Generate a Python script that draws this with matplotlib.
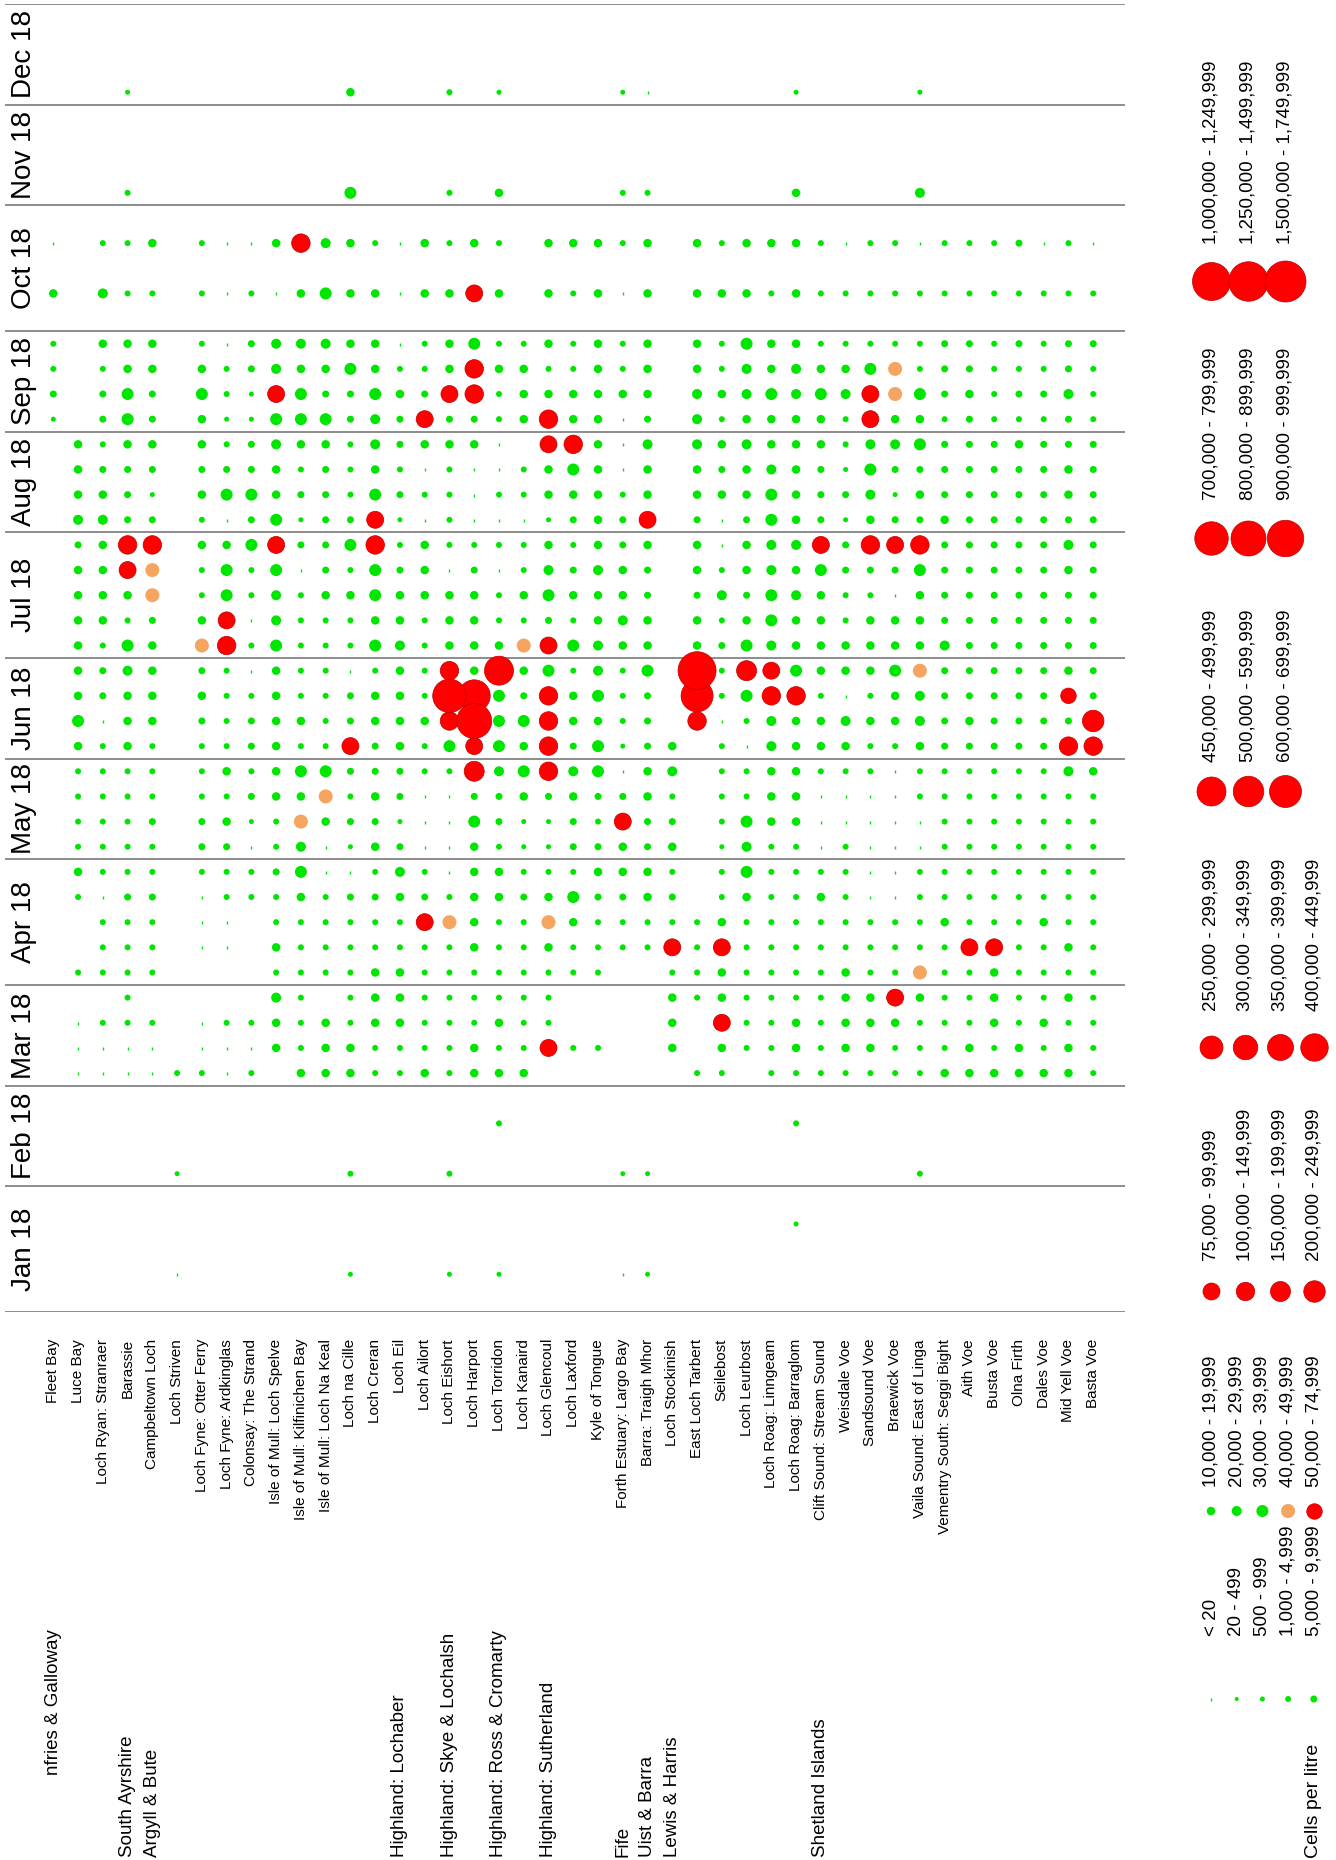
import numpy as np
import matplotlib
matplotlib.use('Agg')
import matplotlib.pyplot as plt

plt.rcParams['font.family'] = ['Liberation Sans', 'DejaVu Sans']

sites = ['Fleet Bay', 'Luce Bay', 'Loch Ryan: Stranraer', 'Barassie', 'Campbeltown Loch',
         'Loch Striven', 'Loch Fyne: Otter Ferry', 'Loch Fyne: Ardkinglas', 'Colonsay: The Strand',
         'Isle of Mull: Loch Spelve', 'Isle of Mull: Kilfinichen Bay', 'Isle of Mull: Loch Na Keal',
         'Loch na Cille', 'Loch Creran', 'Loch Eil', 'Loch Ailort', 'Loch Eishort', 'Loch Harport',
         'Loch Torridon', 'Loch Kanaird', 'Loch Glencoul', 'Loch Laxford', 'Kyle of Tongue',
         'Forth Estuary: Largo Bay', 'Barra: Traigh Mhor', 'Loch Stockinish', 'East Loch Tarbert',
         'Seilebost', 'Loch Leurbost', 'Loch Roag: Linngeam', 'Loch Roag: Barraglom',
         'Clift Sound: Stream Sound', 'Weisdale Voe', 'Sandsound Voe', 'Braewick Voe',
         'Vaila Sound: East of Linga', 'Vementry South: Seggi Bight', 'Aith Voe', 'Busta Voe',
         'Olna Firth', 'Dales Voe', 'Mid Yell Voe', 'Basta Voe']

regions = ['nfries & Galloway', 'South Ayrshire', 'Argyll & Bute', 'Highland: Lochaber',
           'Highland: Skye & Lochalsh', 'Highland: Ross & Cromarty', 'Highland: Sutherland',
           'Fife', 'Uist & Barra', 'Lewis & Harris', 'Shetland Islands']
region_site = [0, 3, 4, 14, 16, 18, 20, 23, 24, 25, 31]

months = ['Jan 18', 'Feb 18', 'Mar 18', 'Apr 18', 'May 18', 'Jun 18',
          'Jul 18', 'Aug 18', 'Sep 18', 'Oct 18', 'Nov 18', 'Dec 18']
weeks = [5, 4, 4, 5, 4, 4, 5, 4, 4, 5, 4, 4]

# cell count bins (legend order)
bins = ['< 20', '20 - 499', '500 - 999', '1,000 - 4,999', '5,000 - 9,999',
        '10,000 - 19,999', '20,000 - 29,999', '30,000 - 39,999', '40,000 - 49,999',
        '50,000 - 74,999', '75,000 - 99,999', '100,000 - 149,999', '150,000 - 199,999',
        '200,000 - 249,999', '250,000 - 299,999', '300,000 - 349,999', '350,000 - 399,999',
        '400,000 - 449,999', '450,000 - 499,999', '500,000 - 599,999', '600,000 - 699,999',
        '700,000 - 799,999', '800,000 - 899,999', '900,000 - 999,999',
        '1,000,000 - 1,249,999', '1,250,000 - 1,499,999', '1,500,000 - 1,749,999']
CODES = '0123456789ABCDEFGHIJKLMNOPQ'

# one string per weekly sample slot (first week first), one char per site, '.' = no sample
jan = ['.......... .......... .......... .......... ...',
       '.....0.... ..2...2.2. ...02..... .......... ...',
       '.......... .......... .......... .......... ...',
       '.......... .......... .......... 2......... ...',
       '.......... .......... .......... .......... ...']
feb = ['.....2.... ..3...3... ...22..... .....3.... ...',
       '.......... .......... .......... .......... ...',
       '.......... ........3. .......... 3......... ...',
       '.......... .......... .......... .......... ...']
mar = ['.00003303. 5553353555 ......33.3 3333335555 553',
       '.0000.0005 3553333533 A33..5.533 5355333535 353',
       '.0333.0335 3535533353 3....5.A33 5355533353 533',
       '...3.....6 3.35533333 3....53533 3355A53353 353']
apr = ['.3333....3 3335533333 333..33533 3353383353 333',
       '..333.00.5 3333333533 53333A3A33 3333333AA3 353',
       '..333.00.3 33333A8533 8533333533 3333335333 533',
       '.3044.0333 5344543554 574454.353 3530033333 333',
       '.5333.3334 7003630553 335553.373 3330033333 333']
may = ['.3333.4403 6025400532 244545.263 3030003333 333',
       '.3334.4523 8544200742 243A44.375 5000003333 333',
       '.3333.3345 5835400445 454453.335 5000033333 333',
       '.3333.3535 7744433C67 B67056.335 5333033333 365']
jun = ['.5353.3345 33A4537A75 B47245.306 5553354444 4BB',
       '.7055.4345 534555BM77 B5534.B036 5565564544 44D',
       '.5455.5335 334553LK74 B5734.K37B B303564444 494',
       '.5465.4305 330353B5I5 73637.O3CA 7555784444 454']
jul = ['.5375.8B37 3337635558 A7655.5476 5555556444 444',
       '.5534.5A06 3335535533 43565.5357 5535554444 444',
       '.5558.3736 3557555535 75554.4647 6533054444 444',
       '.55A8.3737 0437450403 64654.5356 5744474444 454',
       '.45BB.557A 447B353333 53545.5056 6A4BAB4444 464']
aug = ['.6644.3047 244A203000 2454A.4047 5425445444 444',
       '.5542.5775 4437433033 55535.5557 5446254444 454',
       '.5444.4445 3435303003 57505.5456 5427444444 454',
       '.5355.5346 553645550. AB506.6565 5536674445 444']
sep = ['2.474.5227 77464A4435 B5504.6355 553A553433 343',
       '4.474.732A 744754AB35 55555.6567 676A874534 463',
       '3.355.5346 5575335B55 33535.5365 6557834433 343',
       '3.555.3046 6655035733 53535.5375 5333334434 344']
oct_ = ['.......... .......... .......... .......... ...',
        '5.633.3030 5755055A5. 53505.5553 5333333333 333',
        '.......... .......... .......... .......... ...',
        '0.335.3005 B65305353. 55535.5355 5303303334 030',
        '.......... .......... .......... .......... ...']
nov = ['...3...... ..7...3.5. ...33..... 5....6.... ...',
       '.......... .......... .......... .......... ...',
       '.......... .......... .......... .......... ...',
       '.......... .......... .......... .......... ...']
dec = ['...2...... ..5...3.2. ...20..... 2....2.... ...',
       '.......... .......... .......... .......... ...',
       '.......... .......... .......... .......... ...',
       '.......... .......... .......... .......... ...']
year = [jan, feb, mar, apr, may, jun, jul, aug, sep, oct_, nov, dec]

# marker diameter (pixels) per bin
diam = [3, 4, 5, 6, 7, 8.5, 10, 12, 14, 15.5, 17, 18.5, 20, 21.5, 23, 24.5, 26, 27.5,
        29, 30.5, 32, 33.5, 35, 36.5, 38, 39.5, 41]
GREEN, ORANGE, RED = '#00E600', '#F5A55F', '#FF0000'


def bin_color(k):
    if k < 8:
        return GREEN
    if k == 8:
        return ORANGE
    return RED


def bin_size(k):
    return (diam[k] * 0.72) ** 2


xs, ys, ks = [], [], []
slot0 = 0
for m, rows in enumerate(year):
    assert len(rows) == weeks[m]
    for w, row in enumerate(rows):
        row = row.replace(' ', '')
        assert len(row) == len(sites), (m, w)
        for i, ch in enumerate(row):
            if ch != '.':
                xs.append(i)
                ys.append(slot0 + w + 0.5)
                ks.append(CODES.index(ch))
    slot0 += weeks[m]
xs, ys, ks = np.array(xs), np.array(ys), np.array(ks)

W, H = 1336, 1860
fig = plt.figure(figsize=(W / 100, H / 100), dpi=100)

# main grid: x = site index, y = weekly slot (Jan at the bottom)
px_left, px_right = 5, 1125
px_top, px_bottom = 4.2, 1312
site0_px, site_step = 53.3, 24.76
slot_px = (px_bottom - px_top) / sum(weeks)
ax = fig.add_axes([px_left / W, 1 - px_bottom / H, (px_right - px_left) / W, (px_bottom - px_top) / H])
ax.set_xlim((px_left - site0_px) / site_step, (px_right - site0_px) / site_step)
ax.set_ylim(0, sum(weeks))
ax.axis('off')

bounds = np.concatenate([[0], np.cumsum(weeks)])
for b in bounds:
    ax.axhline(b, color='#8c8c8c', lw=1.4, zorder=1)

order = np.argsort(ks, kind='stable')
xs, ys, ks = xs[order], ys[order], ks[order]
tiny = ks == 0
ax.scatter(xs[tiny], ys[tiny], s=bin_size(0), marker='|', c=GREEN, linewidths=1.0, zorder=3)
big = ~tiny
ax.scatter(xs[big], ys[big], s=[bin_size(k) for k in ks[big]],
           c=[bin_color(k) for k in ks[big]],
           edgecolors=['#C00000' if k > 8 else 'none' for k in ks[big]],
           linewidths=0.5, zorder=3)

# month labels
label_x = (24 - site0_px) / site_step
for m, name in enumerate(months):
    ax.text(label_x, (bounds[m] + bounds[m + 1]) / 2, name, rotation=90, fontsize=20,
            ha='center', va='center', rotation_mode='anchor', clip_on=False)

# site labels, right aligned just below the grid
site_label_y = (px_bottom - 1339) / slot_px
for i, name in enumerate(sites):
    ax.text(i, site_label_y, name, rotation=90, fontsize=11, ha='right', va='center',
            rotation_mode='anchor', clip_on=False)

# region labels start at the bottom edge (the first one is cut in the source)
region_start = [1775] + [1857] * (len(regions) - 1)
for name, i, y0 in zip(regions, region_site, region_start):
    ax.text(i, (px_bottom - y0) / slot_px, name, rotation=90, fontsize=13.5, ha='left',
            va='center', rotation_mode='anchor', clip_on=False)

# legend, in pixel coordinates of the figure
lax = fig.add_axes([0, 0, 1, 1])
lax.set_xlim(0, W)
lax.set_ylim(H, 0)
lax.axis('off')
lax.patch.set_alpha(0)

groups = [[0, 1, 2, 3, 4], [5, 6, 7, 8, 9], [10, 11, 12, 13], [14, 15, 16, 17],
          [18, 19, 20], [21, 22, 23], [24, 25, 26]]
group_y = [1699, 1511, 1291, 1047, 791, 538, 281]
group_text_y = [1636, 1487, 1261, 1011, 762, 500, 244]
col_step = {5: 25.7, 4: 34.3, 3: 37.0}
col_x0 = 1211
for members, gy, ty in zip(groups, group_y, group_text_y):
    step = col_step[len(members)]
    for j, k in enumerate(members):
        cx = col_x0 + j * step
        if k == 0:
            lax.scatter([cx], [gy], s=bin_size(0), marker='|', c=GREEN, linewidths=1.0)
        else:
            lax.scatter([cx], [gy], s=bin_size(k), c=bin_color(k),
                        edgecolors='#C00000' if k > 8 else 'none', linewidths=0.5)
        lax.text(cx, ty, bins[k], rotation=90, fontsize=13.5, ha='left', va='center',
                 rotation_mode='anchor')

lax.text(col_x0 + 4 * col_step[5], 1858, 'Cells per litre', rotation=90, fontsize=14,
         ha='left', va='center', rotation_mode='anchor')

fig.savefig('out.png', dpi=100)
